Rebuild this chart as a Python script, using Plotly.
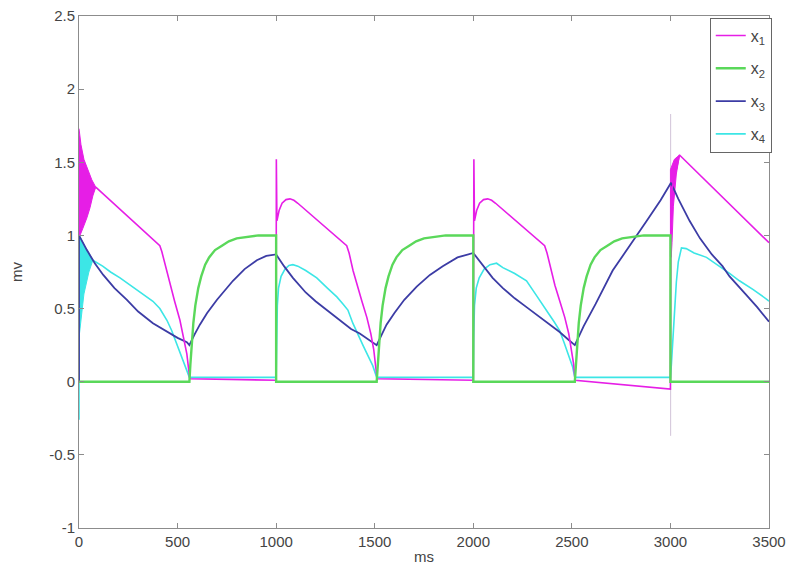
import plotly.graph_objects as go

# ---------------- data ----------------
# x1 (magenta)
x1_t = [85, 410, 420, 440, 461, 485, 512, 530, 547, 555, 562, 1000,
        1001, 1004, 1015, 1030, 1050, 1070, 1090, 1110, 1358, 1370, 1390, 1410, 1435,
        1460, 1480, 1495, 1505, 1512, 2000,
        2003, 2006, 2017, 2032, 2052, 2073, 2093, 2113, 2362, 2374, 2394, 2414, 2439,
        2464, 2484, 2499, 2509, 2516, 3000,
        3002, 3005, 3046, 3492, 3500]
x1_v = [1.33, 0.93, 0.89, 0.78, 0.67, 0.55, 0.42, 0.31, 0.19, 0.10, 0.02, 0.01,
        1.52, 1.10, 1.17, 1.22, 1.245, 1.25, 1.24, 1.22, 0.93, 0.88, 0.76, 0.66, 0.55,
        0.44, 0.33, 0.22, 0.12, 0.02, 0.01,
        1.52, 1.10, 1.17, 1.22, 1.245, 1.25, 1.24, 1.22, 0.93, 0.88, 0.76, 0.66, 0.55,
        0.44, 0.33, 0.22, 0.12, 0.01, -0.05,
        0.90, 1.30, 1.55, 0.96, 0.95]
# oscillation bands of x1 (outline of the filled region)
x1_band0_t = [0, 10, 25, 45, 65, 85, 70, 56, 40, 20, 5, 0]
x1_band0_v = [1.73, 1.62, 1.52, 1.45, 1.38, 1.33, 1.27, 1.19, 1.12, 1.05, 1.0, 1.0]
x1_band3_t = [3000, 3000, 3020, 3046, 3030, 3015, 3008, 3004]
x1_band3_v = [0.85, 1.45, 1.52, 1.55, 1.42, 1.20, 0.95, 0.85]

# x2 (green)
x2_t = [0, 560, 565, 572, 580, 590, 605, 620, 640, 660, 690, 725, 760, 800, 845, 910, 1000, 1000,
        1510, 1515, 1522, 1530, 1540, 1555, 1570, 1590, 1610, 1640, 1675, 1710, 1750, 1795, 1860, 2000, 2000,
        2515, 2520, 2527, 2535, 2545, 2560, 2575, 2595, 2615, 2645, 2680, 2715, 2755, 2800, 2865, 3000, 3000,
        3500]
x2_v = [0, 0, 0.12, 0.28, 0.40, 0.52, 0.64, 0.72, 0.80, 0.85, 0.90, 0.93, 0.96, 0.98, 0.99, 1.0, 1.0, 0,
        0, 0.12, 0.28, 0.40, 0.52, 0.64, 0.72, 0.80, 0.85, 0.90, 0.93, 0.96, 0.98, 0.99, 1.0, 1.0, 0,
        0, 0.12, 0.28, 0.40, 0.52, 0.64, 0.72, 0.80, 0.85, 0.90, 0.93, 0.96, 0.98, 0.99, 1.0, 1.0, 0,
        0]

# x3 (dark blue)
x3_t = [0, 0, 40, 80, 123, 180, 243, 300, 375, 450, 500, 547, 560,
        585, 613, 650, 700, 781, 840, 902, 950, 1000,
        1040, 1085, 1150, 1200, 1255, 1320, 1380, 1424, 1470, 1510,
        1535, 1560, 1600, 1650, 1713, 1780, 1845, 1920, 2000,
        2050, 2098, 2150, 2210, 2270, 2330, 2390, 2438, 2480, 2515,
        2560, 2620, 2707, 2800, 2880, 2950, 3003,
        3040, 3097, 3150, 3210, 3264, 3300, 3380, 3440, 3500]
x3_v = [0, 1.0, 0.90, 0.81, 0.73, 0.64, 0.56, 0.48, 0.40, 0.34, 0.30, 0.27, 0.25,
        0.32, 0.39, 0.47, 0.56, 0.69, 0.77, 0.83, 0.86, 0.87,
        0.79, 0.71, 0.61, 0.55, 0.49, 0.42, 0.36, 0.33, 0.29, 0.25,
        0.32, 0.39, 0.47, 0.56, 0.65, 0.73, 0.79, 0.85, 0.88,
        0.79, 0.71, 0.64, 0.57, 0.51, 0.45, 0.39, 0.34, 0.29, 0.25,
        0.38, 0.53, 0.76, 0.94, 1.10, 1.24, 1.36,
        1.25, 1.10, 0.98, 0.87, 0.79, 0.72, 0.60, 0.51, 0.41]

# x4 (cyan)
x4_t = [0, 0, 30, 70, 120, 160, 208, 260, 320, 375, 410, 446, 470, 490, 510, 527, 545, 560, 1000,
        1002, 1006, 1012, 1025, 1045, 1065, 1085, 1110, 1150, 1206, 1260, 1308, 1340, 1364,
        1389, 1415, 1440, 1465, 1490, 1510, 2000,
        2002, 2006, 2015, 2030, 2055, 2085, 2118, 2150, 2210, 2270, 2320, 2352, 2380,
        2410, 2438, 2460, 2485, 2504, 2515, 3000,
        3005, 3010, 3018, 3030, 3040, 3056, 3080, 3120, 3183, 3250, 3300, 3350, 3420, 3492, 3500]
x4_v = [-0.26, 1.0, 0.92, 0.83, 0.79, 0.75, 0.71, 0.66, 0.60, 0.55, 0.50, 0.42, 0.35, 0.28, 0.21, 0.15, 0.08, 0.03, 0.03,
        0.30, 0.52, 0.64, 0.72, 0.77, 0.795, 0.80, 0.79, 0.76, 0.71, 0.64, 0.58, 0.53, 0.49,
        0.40, 0.32, 0.25, 0.18, 0.11, 0.03, 0.03,
        0.30, 0.52, 0.64, 0.71, 0.77, 0.80, 0.81, 0.78, 0.74, 0.69, 0.59, 0.53, 0.47,
        0.41, 0.35, 0.27, 0.18, 0.10, 0.03, 0.03,
        0.12, 0.25, 0.45, 0.68, 0.82, 0.915, 0.91, 0.88, 0.85, 0.79, 0.74, 0.69, 0.63, 0.56, 0.55]
x4_band0_t = [0, 30, 70, 50, 25, 8, 0]
x4_band0_v = [1.0, 0.92, 0.83, 0.75, 0.60, 0.40, 0.30]

# faint fast spike at t = 3000
spike_t = [3001, 3001]
spike_v = [-0.37, 1.83]

names = ["x<sub>1</sub>", "x<sub>2</sub>", "x<sub>3</sub>", "x<sub>4</sub>"]
colors = ["#e61ee6", "#5ad85a", "#3c3ca5", "#3ce6e6"]

x_ticks = [0, 500, 1000, 1500, 2000, 2500, 3000, 3500]
y_ticks = [-1, -0.5, 0, 0.5, 1, 1.5, 2, 2.5]
y_tick_text = ["-1", "-0.5", "0", "0.5", "1", "1.5", "2", "2.5"]

# ---------------- figure ----------------
fig = go.Figure()

fig.add_trace(go.Scatter(x=spike_t, y=spike_v, mode="lines",
                         line=dict(color="rgba(190,170,200,0.7)", width=1),
                         showlegend=False, hoverinfo="skip"))

for bt, bv, c in [(x1_band0_t, x1_band0_v, colors[0]),
                  (x1_band3_t, x1_band3_v, colors[0]),
                  (x4_band0_t, x4_band0_v, colors[3])]:
    fig.add_trace(go.Scatter(x=bt, y=bv, mode="lines", fill="toself",
                             fillcolor=c, line=dict(color=c, width=1),
                             showlegend=False, hoverinfo="skip"))

series = [(x1_t, x1_v), (x2_t, x2_v), (x3_t, x3_v), (x4_t, x4_v)]
widths = [1.6, 2.4, 1.8, 1.6]
traces = {}
for i, (t, v) in enumerate(series):
    traces[i] = go.Scatter(x=t, y=v, mode="lines", name=names[i],
                           legendgroup=str(i), legendrank=i + 1,
                           line=dict(color=colors[i], width=widths[i]))
for i in [3, 2, 0, 1]:
    fig.add_trace(traces[i])

tick_font = dict(family="Liberation Sans, Arial", size=15, color="#444444")
axis_common = dict(showgrid=False, zeroline=False, showline=True, mirror="ticks",
                   linecolor="#8c8c8c", linewidth=1, ticks="inside", ticklen=5,
                   tickcolor="#8c8c8c", automargin=False, tickfont=tick_font,
                   ticklabeloverflow="allow")

fig.update_layout(
    width=794, height=574,
    margin=dict(l=71, r=33, t=8, b=54),
    paper_bgcolor="white", plot_bgcolor="white",
    showlegend=True,
    legend=dict(x=1.004, y=0.997, xanchor="right", yanchor="top",
                bordercolor="#666666", borderwidth=1, bgcolor="white",
                font=dict(family="Liberation Sans, Arial", size=16, color="#444444"),
                tracegroupgap=9, itemwidth=30),
    xaxis=dict(range=[0, 3500], tickvals=x_ticks, ticktext=[str(v) for v in x_ticks],
               title=dict(text="ms", standoff=2, font=tick_font),
               **axis_common),
    yaxis=dict(range=[-1, 2.5], tickvals=y_ticks, ticktext=y_tick_text,
               title=dict(text="mv", standoff=22, font=tick_font),
               **axis_common),
)

fig.write_html("out.html")
